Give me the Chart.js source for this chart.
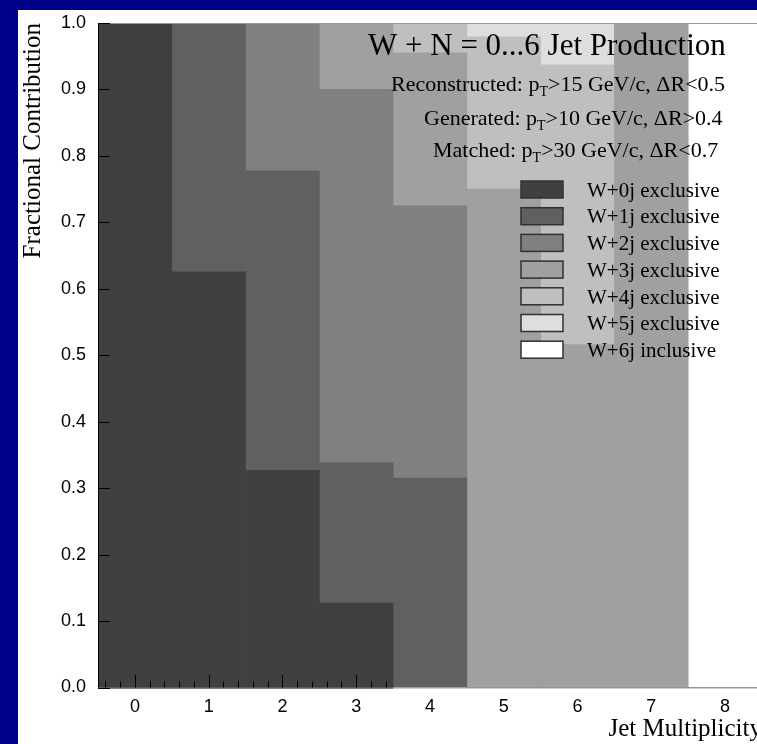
<!DOCTYPE html>
<html>
<head>
<meta charset="utf-8">
<script src="https://cdn.jsdelivr.net/npm/chart.js@4"></script>
<style>
  html, body { margin: 0; padding: 0; background: #000088; overflow: hidden; }
  #pad { position: absolute; left: 18px; top: 10px; width: 744px; height: 734px; background: #fff; }
</style>
</head>
<body>
<div id="pad"><canvas id="chart_jets" width="744" height="734"></canvas></div>
<script>
// jet multiplicity bins
var jetBins = ['0', '1', '2', '3', '4', '5', '6', '7', '8'];

// fraction of each sample in each bin (stacked)
var w0Excl = [1.0, 0.626, 0.327, 0.127, 0, 0, 0, 0, 0];
var w1Excl = [0, 0.374, 0.451, 0.211, 0.315, 0, 0, 0, 0];
var w2Excl = [0, 0, 0.222, 0.562, 0.410, 0, 0, 0, 0];
var w3Excl = [0, 0, 0, 0.100, 0.230, 0.750, 0.516, 1.0, 0];
var w4Excl = [0, 0, 0, 0, 0.045, 0.229, 0.421, 0, 0];
var w5Excl = [0, 0, 0, 0, 0, 0.021, 0.063, 0, 0];
var w6Incl = [0, 0, 0, 0, 0, 0, 0, 0, 1.0];

var sampleNames = ['W+0j exclusive', 'W+1j exclusive', 'W+2j exclusive', 'W+3j exclusive',
                   'W+4j exclusive', 'W+5j exclusive', 'W+6j inclusive'];
var yTicks = [0, 0.1, 0.2, 0.3, 0.4, 0.5, 0.6, 0.7, 0.8, 0.9, 1.0];

var titleText = 'W + N = 0...6 Jet Production';
var cutLines = [
    ['Reconstructed: p', 'T', '>15 GeV/c, \u0394R<0.5'],
    ['Generated: p', 'T', '>10 GeV/c, \u0394R>0.4'],
    ['Matched: p', 'T', '>30 GeV/c, \u0394R<0.7']
];

var greys = ['#404040', '#606060', '#808080', '#a0a0a0', '#bfbfbf', '#dedede', '#ffffff'];
var serif = '"Liberation Serif", "Times New Roman", serif';
var sans = '"Liberation Sans", Arial, sans-serif';

function makeSet(i, values) {
    return {
        label: sampleNames[i],
        data: values,
        backgroundColor: greys[i],
        borderWidth: 0,
        barPercentage: 1.0,
        categoryPercentage: 1.0
    };
}

// axes the ROOT way: ticks pointing into the frame, minor ticks on x
var frameAxes = {
    id: 'frameAxes',
    afterDatasetsDraw: function(chart) {
        var ctx = chart.ctx, area = chart.chartArea;
        var xs = chart.scales.x, ys = chart.scales.y;
        var edge = xs.getPixelForValue(3.5);
        ctx.save();
        ctx.lineWidth = 1;

        ctx.strokeStyle = '#999';
        ctx.beginPath();
        ctx.moveTo(area.left, area.top + 0.5);
        ctx.lineTo(area.right, area.top + 0.5);
        ctx.moveTo(edge, area.bottom + 0.5);
        ctx.lineTo(area.right, area.bottom + 0.5);
        ctx.stroke();

        ctx.strokeStyle = '#000';
        ctx.beginPath();
        ctx.moveTo(area.left + 0.5, area.top);
        ctx.lineTo(area.left + 0.5, area.bottom);
        ctx.moveTo(area.left, area.bottom + 0.5);
        ctx.lineTo(edge, area.bottom + 0.5);
        yTicks.forEach(function(v) {
            var py = Math.round(ys.getPixelForValue(v)) + 0.5;
            ctx.moveTo(area.left, py);
            ctx.lineTo(area.left + 12, py);
        });
        for (var k = -2; k <= 17; k++) {
            var px = Math.round(xs.getPixelForValue(k * 0.2)) + 0.5;
            var len = (k % 5 === 0) ? 12.5 : 6;
            ctx.moveTo(px, area.bottom);
            ctx.lineTo(px, area.bottom - len);
        }
        ctx.stroke();
        ctx.restore();
    }
};

// title, cut descriptions and legend drawn inside the frame
var labelsBox = {
    id: 'labelsBox',
    afterDraw: function(chart) {
        var ctx = chart.ctx;
        ctx.save();
        ctx.fillStyle = '#000';
        ctx.textBaseline = 'alphabetic';
        ctx.font = '31px ' + serif;
        ctx.fillText(titleText, 350, 45);

        var starts = [[373, 81], [406, 114.5], [415, 146.5]];
        cutLines.forEach(function(parts, i) {
            var x = starts[i][0], y = starts[i][1];
            ctx.font = '22px ' + serif;
            ctx.fillText(parts[0], x, y);
            x += ctx.measureText(parts[0]).width;
            ctx.font = '14px ' + serif;
            ctx.fillText(parts[1], x, y + 5);
            x += ctx.measureText(parts[1]).width;
            ctx.font = '22px ' + serif;
            ctx.fillText(parts[2], x, y);
        });

        ctx.font = '21px ' + serif;
        chart.data.datasets.forEach(function(ds, i) {
            var top = 171 + i * 26.7;
            ctx.fillStyle = ds.backgroundColor;
            ctx.fillRect(503, top, 42, 17);
            ctx.strokeStyle = '#303030';
            ctx.lineWidth = 1.5;
            ctx.strokeRect(503, top, 42, 17);
            ctx.fillStyle = '#000';
            ctx.fillText(ds.label, 569, top + 15.7);
        });
        ctx.restore();
    }
};

function createChart(context) {
    var ctx = document.getElementById(context).getContext('2d');
    var series = [w0Excl, w1Excl, w2Excl, w3Excl, w4Excl, w5Excl, w6Incl];

    new Chart(ctx, {
        type: 'bar',
        data: {
            labels: jetBins,
            datasets: series.map(function(v, i) { return makeSet(i, v); })
        },
        options: {
            responsive: false,
            animation: false,
            devicePixelRatio: 1,
            layout: { padding: { top: 13, left: 0, right: 0, bottom: 0 } },
            plugins: { legend: { display: false }, tooltip: { enabled: false } },
            scales: {
                x: {
                    stacked: true,
                    grid: { display: false },
                    border: { display: false },
                    ticks: { color: '#000', padding: 1, font: { family: sans, size: 18 } },
                    title: {
                        display: true, text: 'Jet Multiplicity', align: 'end', color: '#000',
                        padding: 0, font: { family: serif, size: 25 }
                    },
                    afterFit: function(scale) {
                        scale.height = 56.5;
                        scale.paddingLeft = 0;
                        scale.paddingRight = 0;
                    }
                },
                y: {
                    stacked: true,
                    min: 0,
                    max: 1,
                    grid: { display: false },
                    border: { display: false },
                    ticks: {
                        stepSize: 0.1, color: '#000', padding: 4,
                        font: { family: sans, size: 18 },
                        callback: function(v) { return v.toFixed(1); }
                    },
                    title: {
                        display: true, text: 'Fractional Contribution', align: 'end', color: '#000',
                        padding: 0, font: { family: serif, size: 25 }
                    },
                    afterFit: function(scale) {
                        scale.width = 80;
                        scale.paddingTop = 0;
                        scale.paddingBottom = 0;
                    }
                }
            }
        },
        plugins: [frameAxes, labelsBox]
    });
}

createChart('chart_jets');
</script>
</body>
</html>
